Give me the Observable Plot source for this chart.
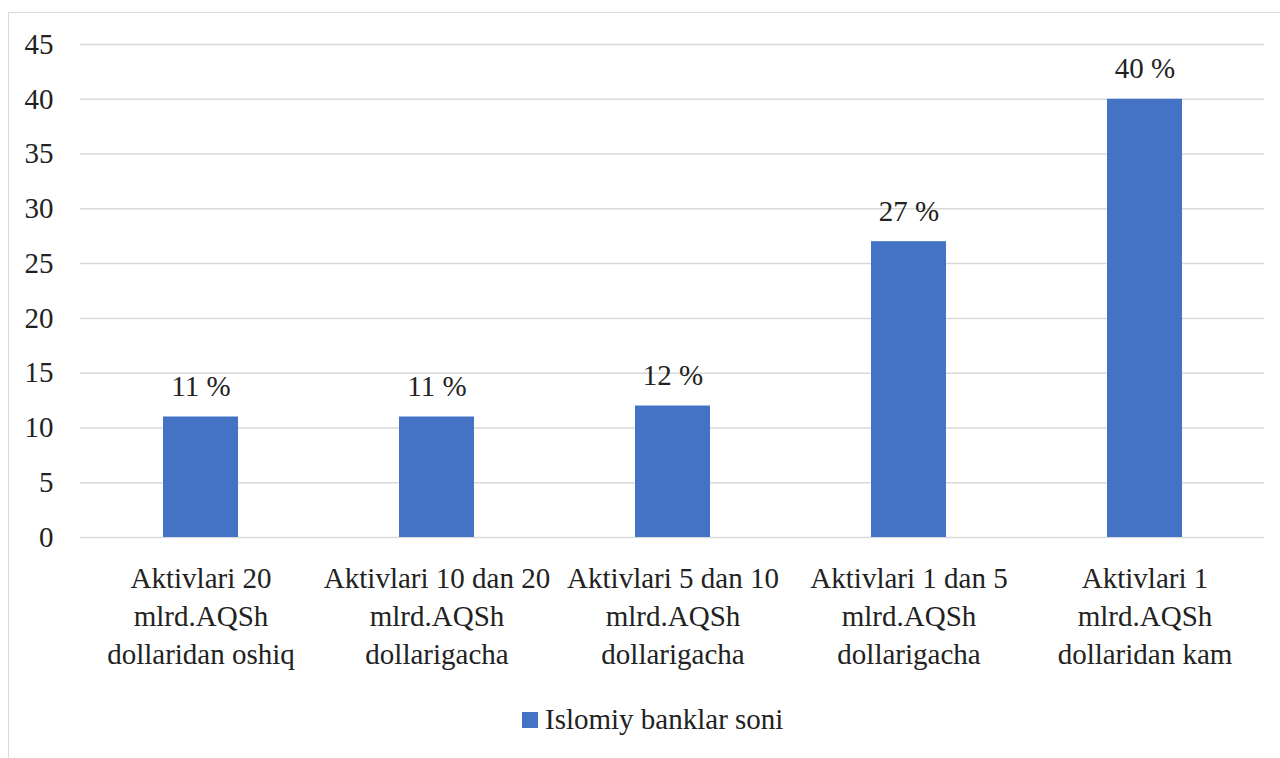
<!DOCTYPE html>
<html>
<head>
<meta charset="utf-8">
<script src="https://cdn.jsdelivr.net/npm/d3@7"></script>
<script src="https://cdn.jsdelivr.net/npm/@observablehq/plot@0.6"></script>
<style>
  html, body { margin: 0; padding: 0; background: #fff; }
  body { width: 1280px; height: 758px; position: relative; overflow: hidden; font-family: 'Liberation Serif', serif; }
  #frame { position: absolute; left: 8px; top: 12px; width: 1320px; height: 800px; border: 1.5px solid #d9d9d9; box-sizing: border-box; }
  #chart { position: absolute; left: 0; top: 0; }
  #legend { position: absolute; left: 522px; top: 703px; display: flex; align-items: center; font-size: 29px; color: #222; white-space: nowrap; font-family: 'Liberation Serif', serif; }
  #legend .sw { width: 16px; height: 16px; background: #4472c4; margin-right: 7px; }
  #chart svg, #chart svg text { font-family: 'Liberation Serif', serif !important; }
</style>
</head>
<body>
<div id="frame"></div>
<div id="chart"></div>
<div id="legend"><span class="sw"></span><span id="legendText">Islomiy banklar soni</span></div>
<script>
const categories = [
  "Aktivlari 20\nmlrd.AQSh\ndollaridan oshiq",
  "Aktivlari 10 dan 20\nmlrd.AQSh\ndollarigacha",
  "Aktivlari 5 dan 10\nmlrd.AQSh\ndollarigacha",
  "Aktivlari 1 dan 5\nmlrd.AQSh\ndollarigacha",
  "Aktivlari 1\nmlrd.AQSh\ndollaridan kam"
];
const values = [11, 11, 12, 27, 40];
const valueLabels = ["11 %", "11 %", "12 %", "27 %", "40 %"];
const yTicks = [0, 5, 10, 15, 20, 25, 30, 35, 40, 45];
const seriesName = "Islomiy banklar soni";

const data = categories.map((c, i) => ({category: c, value: values[i], label: valueLabels[i]}));

const chart = Plot.plot({
  width: 1280,
  height: 690,
  marginLeft: 80,
  marginRight: 16,
  marginTop: 44,
  marginBottom: 153,
  style: {fontFamily: "Liberation Serif", fontSize: "29px", color: "#222", background: "transparent"},
  x: {domain: categories, paddingInner: 0.683, paddingOuter: 0.3415, label: null},
  y: {domain: [0, 45], label: null},
  marks: [
    Plot.gridY(yTicks, {stroke: "#d9d9d9", strokeOpacity: 1, strokeWidth: 1.5}),
    Plot.barY(data, {x: "category", y: "value", fill: "#4472c4"}),
    Plot.text(data, {x: "category", y: "value", text: "label", lineAnchor: "bottom", dy: -21, fontSize: 29, fill: "#222"}),
    Plot.axisY({ticks: yTicks, tickSize: 0, tickPadding: 27, fontSize: 29, label: null}),
    Plot.axisX({tickSize: 0, tickPadding: 24, fontSize: 29, lineHeight: 38 / 29, label: null})
  ]
});
document.getElementById("chart").appendChild(chart);
document.getElementById("legendText").textContent = seriesName;
</script>
</body>
</html>
